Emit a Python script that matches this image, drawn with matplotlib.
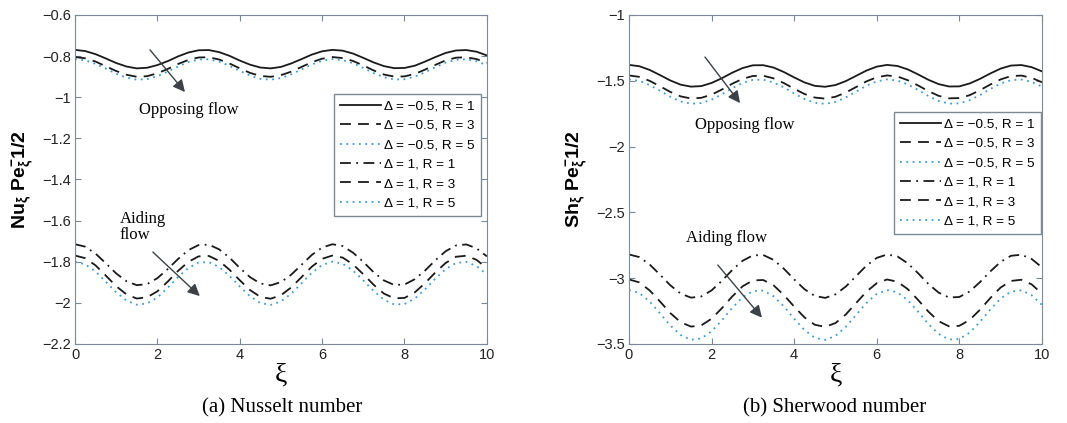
import matplotlib
matplotlib.use('Agg')
import matplotlib.pyplot as plt

plt.rcParams['font.family'] = ['Liberation Sans', 'DejaVu Sans']
plt.rcParams['mathtext.fontset'] = 'custom'
plt.rcParams['mathtext.rm'] = 'Liberation Sans'
plt.rcParams['mathtext.it'] = 'Liberation Sans'
plt.rcParams['mathtext.bf'] = 'Liberation Sans:bold'

# xi axis positions
xi = [0.0, 0.25, 0.5, 0.75, 1.0, 1.25, 1.5, 1.75, 2.0, 2.25, 2.5, 2.75, 3.0, 3.25, 3.5, 3.75,
      4.0, 4.25, 4.5, 4.75, 5.0, 5.25, 5.5, 5.75, 6.0, 6.25, 6.5, 6.75, 7.0, 7.25, 7.5, 7.75,
      8.0, 8.25, 8.5, 8.75, 9.0, 9.25, 9.5, 9.75, 10.0]

labels = ['\u0394 = \u22120.5, R = 1', '\u0394 = \u22120.5, R = 3', '\u0394 = \u22120.5, R = 5',
          '\u0394 = 1, R = 1', '\u0394 = 1, R = 3', '\u0394 = 1, R = 5']

## Nusselt number (a)
nu_m05_r1 = [-0.770, -0.776, -0.791, -0.812, -0.834, -0.851, -0.860, -0.857, -0.844, -0.825, -0.802,
             -0.783, -0.772, -0.771, -0.781, -0.799, -0.822, -0.842, -0.856, -0.860, -0.853, -0.836,
             -0.815, -0.793, -0.777, -0.770, -0.774, -0.788, -0.809, -0.831, -0.849, -0.859, -0.858,
             -0.847, -0.827, -0.805, -0.785, -0.773, -0.771, -0.779, -0.797]
nu_m05_r3 = [-0.805, -0.811, -0.827, -0.850, -0.873, -0.891, -0.901, -0.898, -0.884, -0.863, -0.839,
             -0.819, -0.807, -0.806, -0.817, -0.836, -0.860, -0.882, -0.897, -0.901, -0.893, -0.876,
             -0.853, -0.830, -0.813, -0.805, -0.810, -0.824, -0.846, -0.870, -0.890, -0.900, -0.899,
             -0.887, -0.866, -0.843, -0.821, -0.808, -0.806, -0.815, -0.833]
nu_m05_r5 = [-0.815, -0.821, -0.838, -0.861, -0.886, -0.905, -0.915, -0.912, -0.898, -0.876, -0.851,
             -0.830, -0.817, -0.816, -0.827, -0.848, -0.872, -0.895, -0.911, -0.915, -0.907, -0.889,
             -0.865, -0.841, -0.823, -0.815, -0.820, -0.835, -0.858, -0.883, -0.903, -0.914, -0.913,
             -0.900, -0.879, -0.854, -0.832, -0.818, -0.816, -0.825, -0.845]
nu_1_r1 = [-1.715, -1.727, -1.761, -1.808, -1.857, -1.895, -1.914, -1.909, -1.880, -1.836, -1.787,
           -1.744, -1.719, -1.717, -1.740, -1.780, -1.830, -1.875, -1.906, -1.915, -1.899, -1.863,
           -1.815, -1.767, -1.731, -1.715, -1.724, -1.756, -1.801, -1.851, -1.891, -1.913, -1.911,
           -1.885, -1.843, -1.793, -1.749, -1.721, -1.716, -1.735, -1.774]
nu_1_r3 = [-1.770, -1.783, -1.818, -1.868, -1.919, -1.959, -1.979, -1.973, -1.944, -1.897, -1.845,
           -1.801, -1.774, -1.772, -1.796, -1.839, -1.890, -1.938, -1.971, -1.980, -1.963, -1.925,
           -1.875, -1.824, -1.786, -1.770, -1.780, -1.813, -1.861, -1.912, -1.955, -1.978, -1.976,
           -1.949, -1.904, -1.852, -1.806, -1.776, -1.771, -1.791, -1.832]
nu_1_r5 = [-1.800, -1.813, -1.848, -1.898, -1.949, -1.989, -2.009, -2.003, -1.974, -1.927, -1.875,
           -1.831, -1.804, -1.802, -1.826, -1.869, -1.920, -1.968, -2.001, -2.010, -1.993, -1.955,
           -1.905, -1.854, -1.816, -1.800, -1.810, -1.843, -1.891, -1.942, -1.985, -2.008, -2.006,
           -1.979, -1.934, -1.882, -1.836, -1.806, -1.801, -1.821, -1.862]

## Sherwood number (b)
sh_m05_r1 = [-1.380, -1.390, -1.418, -1.457, -1.498, -1.530, -1.545, -1.541, -1.517, -1.481, -1.439,
             -1.404, -1.383, -1.382, -1.400, -1.434, -1.475, -1.513, -1.539, -1.546, -1.533, -1.503,
             -1.463, -1.423, -1.393, -1.380, -1.388, -1.414, -1.452, -1.493, -1.526, -1.544, -1.543,
             -1.521, -1.486, -1.445, -1.408, -1.385, -1.381, -1.397, -1.429]
sh_m05_r3 = [-1.460, -1.471, -1.501, -1.542, -1.585, -1.619, -1.635, -1.630, -1.606, -1.567, -1.523,
             -1.486, -1.464, -1.462, -1.482, -1.518, -1.561, -1.601, -1.628, -1.636, -1.622, -1.590,
             -1.548, -1.505, -1.474, -1.460, -1.468, -1.496, -1.536, -1.579, -1.615, -1.634, -1.632,
             -1.610, -1.572, -1.529, -1.490, -1.465, -1.461, -1.478, -1.512]
sh_m05_r5 = [-1.490, -1.501, -1.533, -1.576, -1.622, -1.658, -1.675, -1.670, -1.644, -1.603, -1.557,
             -1.517, -1.494, -1.492, -1.513, -1.551, -1.597, -1.639, -1.668, -1.676, -1.661, -1.627,
             -1.583, -1.538, -1.505, -1.490, -1.499, -1.528, -1.570, -1.616, -1.654, -1.674, -1.672,
             -1.648, -1.609, -1.563, -1.522, -1.496, -1.491, -1.509, -1.545]
sh_1_r1 = [-2.820, -2.840, -2.896, -2.973, -3.054, -3.117, -3.148, -3.139, -3.093, -3.020, -2.938,
           -2.868, -2.827, -2.824, -2.861, -2.928, -3.009, -3.084, -3.135, -3.150, -3.123, -3.064,
           -2.984, -2.905, -2.846, -2.820, -2.835, -2.887, -2.962, -3.044, -3.110, -3.147, -3.143,
           -3.101, -3.030, -2.949, -2.876, -2.830, -2.822, -2.854, -2.918]
sh_1_r3 = [-3.010, -3.032, -3.093, -3.177, -3.265, -3.334, -3.368, -3.359, -3.308, -3.228, -3.139,
           -3.062, -3.017, -3.014, -3.054, -3.128, -3.216, -3.298, -3.354, -3.370, -3.341, -3.276,
           -3.189, -3.103, -3.038, -3.010, -3.027, -3.083, -3.165, -3.254, -3.327, -3.366, -3.362,
           -3.317, -3.240, -3.151, -3.071, -3.021, -3.012, -3.047, -3.117]
sh_1_r5 = [-3.090, -3.113, -3.177, -3.267, -3.359, -3.432, -3.468, -3.458, -3.404, -3.320, -3.226,
           -3.145, -3.098, -3.094, -3.137, -3.214, -3.308, -3.394, -3.453, -3.469, -3.439, -3.370,
           -3.279, -3.188, -3.120, -3.090, -3.108, -3.167, -3.254, -3.348, -3.424, -3.466, -3.462,
           -3.414, -3.332, -3.238, -3.155, -3.102, -3.092, -3.129, -3.203]

nu_series = [nu_m05_r1, nu_m05_r3, nu_m05_r5, nu_1_r1, nu_1_r3, nu_1_r5]
sh_series = [sh_m05_r1, sh_m05_r3, sh_m05_r5, sh_1_r1, sh_1_r3, sh_1_r5]

blue = '#3d9bd6'
styles = [dict(color='#1a1a1a', ls='-'),
          dict(color='#1a1a1a', ls=(0, (6, 4))),
          dict(color=blue, ls=(0, (1, 2.5))),
          dict(color='#1a1a1a', ls=(0, (6, 3, 1, 3))),
          dict(color='#1a1a1a', ls=(0, (6, 4))),
          dict(color=blue, ls=(0, (1, 2.5)))]

frame = '#7d8a96'
serif = ['Liberation Serif', 'DejaVu Serif']

fig = plt.figure(figsize=(10.67, 4.23), dpi=100)
ax1 = fig.add_axes([0.0703, 0.1868, 0.386, 0.778])
ax2 = fig.add_axes([0.5895, 0.1868, 0.387, 0.778])


def style(ax, ylim, yticks, yticklabels, ylabel):
    ax.set_xlim(0, 10)
    ax.set_ylim(ylim)
    ax.set_xticks([0, 2, 4, 6, 8, 10])
    ax.set_yticks(yticks)
    ax.set_yticklabels(yticklabels)
    ax.tick_params(direction='in', top=True, right=True, labelsize=10.5,
                   color=frame, labelcolor='#222222', length=4, pad=3)
    for s in ax.spines.values():
        s.set_color(frame)
    ax.set_xlabel('\u03be', fontsize=20, family=serif, labelpad=0)
    ax.set_ylabel(ylabel, fontsize=14, fontweight='bold', labelpad=6)


def arrow(ax, start, end):
    ax.annotate('', xy=end, xytext=start,
                arrowprops=dict(arrowstyle='-|>', color='#3c4248', lw=1.0,
                                mutation_scale=18, shrinkA=0, shrinkB=0))


for ax, series in [(ax1, nu_series), (ax2, sh_series)]:
    for y, lab, st in zip(series, labels, styles):
        ax.plot(xi, y, lw=1.3, label=lab, **st)

style(ax1, (-2.2, -0.6), [-2.2, -2, -1.8, -1.6, -1.4, -1.2, -1, -0.8, -0.6],
      ['\u22122.2', '\u22122', '\u22121.8', '\u22121.6', '\u22121.4', '\u22121.2',
       '\u22121', '\u22120.8', '\u22120.6'],
      r'$\mathbf{Nu_{\xi}\ Pe_{\xi}^{-}1/2}$')
style(ax2, (-3.5, -1), [-3.5, -3, -2.5, -2, -1.5, -1],
      ['\u22123.5', '\u22123', '\u22122.5', '\u22122', '\u22121.5', '\u22121'],
      r'$\mathbf{Sh_{\xi}\ Pe_{\xi}^{-}1/2}$')

for ax, anchor in [(ax1, (0.985, 0.76)), (ax2, (0.997, 0.705))]:
    leg = ax.legend(loc='upper right', bbox_to_anchor=anchor, fontsize=9.7, handlelength=3.0,
                    fancybox=False, framealpha=1, edgecolor=frame, borderpad=0.45,
                    labelspacing=0.52, handletextpad=0.25, borderaxespad=0)
    leg.get_frame().set_linewidth(1.0)

# annotations (a)
ax1.text(2.75, -1.06, 'Opposing flow', family=serif, fontsize=12, ha='center', va='center')
arrow(ax1, (1.82, -0.77), (2.67, -0.975))
ax1.text(1.08, -1.63, 'Aiding\nflow', family=serif, fontsize=12, ha='left', va='center',
         linespacing=1.0)
arrow(ax1, (1.89, -1.753), (3.03, -1.967))

# annotations (b)
ax2.text(2.81, -1.836, 'Opposing flow', family=serif, fontsize=12, ha='center', va='center')
arrow(ax2, (1.84, -1.32), (2.69, -1.67))
ax2.text(2.35, -2.695, 'Aiding flow', family=serif, fontsize=12, ha='center', va='center')
arrow(ax2, (2.15, -2.90), (3.22, -3.30))

fig.text(282 / 1067, 1 - 408 / 423, '(a) Nusselt number', family=serif, fontsize=15,
         ha='center', va='center')
fig.text(835 / 1067, 1 - 408 / 423, '(b) Sherwood number', family=serif, fontsize=15,
         ha='center', va='center')

fig.savefig('out.png', dpi=100)
